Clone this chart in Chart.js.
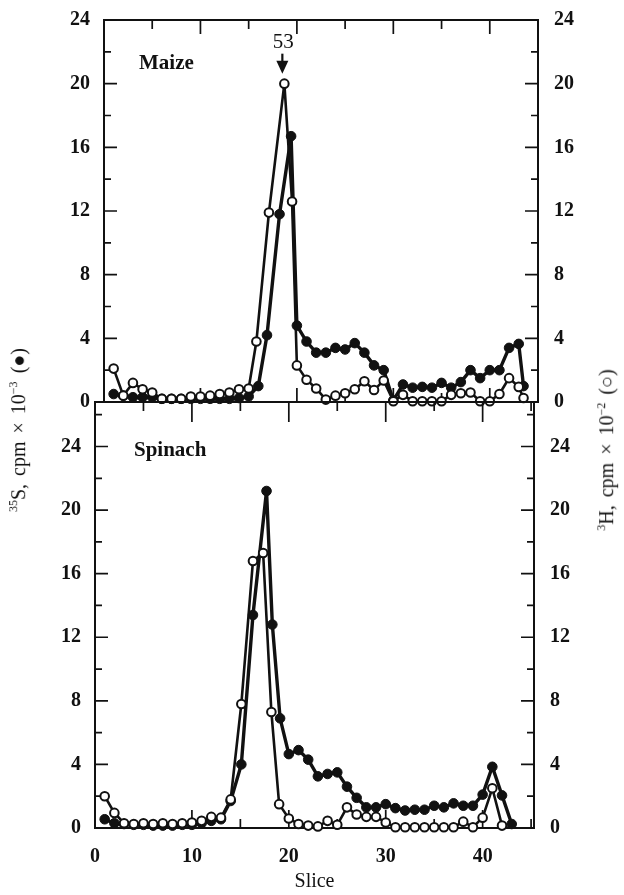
<!DOCTYPE html>
<html>
<head>
<meta charset="utf-8">
<script src="https://cdn.jsdelivr.net/npm/chart.js@4.4.0/dist/chart.umd.min.js"></script>
<style>
  body { margin: 0; background: #fff; width: 624px; height: 895px; overflow: hidden; position: relative;
         font-family: "Liberation Serif", "DejaVu Serif", serif; color: #111; }
  canvas { position: absolute; left: 0; }
  #maize { top: 0; }
  #spinach { top: 380px; }
  .panel-label { position: absolute; font-weight: bold; font-size: 21px; }
  .axis-title { position: absolute; white-space: nowrap; font-size: 20px; word-spacing: 3px;
                transform: translate(-50%, -50%) rotate(-90deg); }
  .axis-title sup { font-size: 12px; }
</style>
</head>
<body>
<canvas id="maize" width="624" height="430"></canvas>
<canvas id="spinach" width="624" height="515"></canvas>
<div class="panel-label" style="left:139px; top:50px;">Maize</div>
<div class="panel-label" style="left:134px; top:437px;">Spinach</div>
<div class="axis-title" style="left:18px; top:430px;"><sup>35</sup>S, cpm × 10<sup>−3</sup> (●)</div>
<div class="axis-title" style="left:606px; top:450px;"><sup>3</sup>H, cpm × 10<sup>−2</sup> (○)</div>
<script>
// Maize: slice positions of the plotted fractions
const maizeS35Slices = [1, 2, 3, 4, 5, 6, 7, 8, 9, 10, 11, 12, 13, 14, 15, 16, 16.9, 18.2, 19.4, 20,
    21, 22, 23, 24, 25, 26, 27, 28, 29, 30, 31, 32, 33, 34, 35, 36, 37, 38, 39, 40, 41, 42, 43, 43.5];
// 35S, cpm x 10^-3 (filled circles)
const maizeS35 = [0.5, 0.4, 0.3, 0.3, 0.3, 0.2, 0.2, 0.2, 0.2, 0.2, 0.2, 0.2, 0.2, 0.25, 0.35, 1.0,
    4.2, 11.8, 16.7, 4.8, 3.8, 3.1, 3.1, 3.4, 3.3, 3.7, 3.1, 2.3, 2.0, 0.1, 1.1, 0.9, 0.95, 0.9, 1.2,
    0.9, 1.25, 2.0, 1.5, 2.0, 2.0, 3.4, 3.65, 1.0];
const maizeH3Slices = [1, 2, 3, 4, 5, 6, 7, 8, 9, 10, 11, 12, 13, 14, 15, 15.8, 17.1, 18.7, 19.5, 20,
    21, 22, 23, 24, 25, 26, 27, 28, 29, 30, 31, 32, 33, 34, 35, 36, 37, 38, 39, 40, 41, 42, 43, 43.5];
// 3H, cpm x 10^-2 (open circles)
const maizeH3 = [2.1, 0.4, 1.2, 0.8, 0.6, 0.2, 0.2, 0.2, 0.35, 0.35, 0.4, 0.5, 0.6, 0.8, 0.85, 3.8,
    11.9, 20.0, 12.6, 2.3, 1.4, 0.85, 0.15, 0.4, 0.55, 0.8, 1.3, 0.75, 1.35, 0.05, 0.45, 0.05, 0.05,
    0.05, 0.05, 0.45, 0.55, 0.6, 0.05, 0.05, 0.5, 1.5, 0.95, 0.25];

// Spinach
const spinachS35Slices = [1, 2, 3, 4, 5, 6, 7, 8, 9, 10, 11, 12, 13, 14, 15.1, 16.3, 17.7, 18.3, 19.1,
    20, 21, 22, 23, 24, 25, 26, 27, 28, 29, 30, 31, 32, 33, 34, 35, 36, 37, 38, 39, 40, 41, 42, 43];
const spinachS35 = [0.55, 0.3, 0.25, 0.2, 0.2, 0.15, 0.15, 0.15, 0.2, 0.2, 0.3, 0.45, 0.55, 1.7, 4.0,
    13.4, 21.2, 12.8, 6.9, 4.65, 4.9, 4.3, 3.25, 3.4, 3.5, 2.6, 1.9, 1.3, 1.3, 1.5, 1.25, 1.1, 1.15,
    1.15, 1.4, 1.3, 1.55, 1.4, 1.4, 2.1, 3.85, 2.05, 0.25];
const spinachH3Slices = [1, 2, 3, 4, 5, 6, 7, 8, 9, 10, 11, 12, 13, 14, 15.1, 16.3, 17.35, 18.2, 19,
    20, 21, 22, 23, 24, 25, 26, 27, 28, 29, 30, 31, 32, 33, 34, 35, 36, 37, 38, 39, 40, 41, 42];
const spinachH3 = [2.0, 0.95, 0.3, 0.25, 0.3, 0.25, 0.3, 0.25, 0.3, 0.35, 0.45, 0.7, 0.65, 1.8, 7.8,
    16.8, 17.3, 7.3, 1.5, 0.6, 0.25, 0.15, 0.1, 0.45, 0.2, 1.3, 0.85, 0.7, 0.7, 0.35, 0.05, 0.05, 0.05,
    0.05, 0.05, 0.05, 0.05, 0.4, 0.05, 0.65, 2.5, 0.15];

const xTickLabels = [0, 10, 20, 30, 40];
const yTickLabels = [0, 4, 8, 12, 16, 20, 24];
const peakLabel = '53';

const INK = '#111';
Chart.defaults.font.family = '"Liberation Serif", "DejaVu Serif", serif';
Chart.defaults.font.size = 20;
Chart.defaults.font.weight = 'bold';
Chart.defaults.color = INK;

function toPoints(xs, ys) {
    return ys.map((y, i) => ({ x: xs[i], y }));
}

// frame and inward tick marks, like the printed figure
const frameTicks = {
    id: 'frameTicks',
    beforeDatasetsDraw(chart, args, opts) {
        const { ctx, chartArea: a, scales } = chart;
        ctx.save();
        ctx.strokeStyle = INK;
        ctx.lineWidth = 2;
        ctx.strokeRect(a.left, a.top, a.right - a.left, a.bottom - a.top);
        ctx.lineWidth = 1.7;
        ctx.beginPath();
        for (let v = 5; v < scales.x.max; v += 5) {
            const x = scales.x.getPixelForValue(v);
            const major = v % 10 === 0;
            ctx.moveTo(x, a.bottom);
            ctx.lineTo(x, a.bottom - (major ? opts.bottomMajor : opts.bottomMinor));
            ctx.moveTo(x, a.top);
            ctx.lineTo(x, a.top + (major ? opts.topMajor : opts.topMinor));
        }
        for (let v = 2; v <= scales.y.max; v += 2) {
            const len = v % 4 === 0 ? 13 : 7;
            const yl = scales.y.getPixelForValue(v);
            const yr = scales.y2.getPixelForValue(v);
            ctx.moveTo(a.left, yl);
            ctx.lineTo(a.left + len, yl);
            ctx.moveTo(a.right, yr);
            ctx.lineTo(a.right - len, yr);
        }
        ctx.stroke();
        ctx.restore();
    },
    afterDatasetsDraw(chart, args, opts) {
        if (!opts.arrow) return;
        const { ctx, scales } = chart;
        const pts = chart.data.datasets[0].data;
        let peak = pts[0];
        pts.forEach(p => { if (p.y > peak.y) peak = p; });
        const x = scales.x.getPixelForValue(peak.x) - 2;
        const y = scales.y2.getPixelForValue(peak.y);
        ctx.save();
        ctx.strokeStyle = INK;
        ctx.fillStyle = INK;
        ctx.lineWidth = 2.2;
        ctx.beginPath();
        ctx.moveTo(x, y - 30);
        ctx.lineTo(x, y - 21);
        ctx.stroke();
        ctx.beginPath();
        ctx.moveTo(x - 6, y - 23);
        ctx.lineTo(x + 6, y - 23);
        ctx.lineTo(x, y - 10);
        ctx.closePath();
        ctx.fill();
        ctx.font = '21px "Liberation Serif", serif';
        ctx.textAlign = 'center';
        ctx.textBaseline = 'middle';
        ctx.fillText(peakLabel, x + 1, y - 41);
        ctx.restore();
    }
};

function makePanel(canvasId, data, cfg) {
    const openSet = {
        data: toPoints(data.h3Slices, data.h3),
        yAxisID: 'y2',
        borderColor: INK,
        borderWidth: 2.6,
        pointRadius: 4.3,
        pointBorderWidth: 2,
        pointBackgroundColor: '#fff',
        pointBorderColor: INK,
        tension: 0,
        clip: false
    };
    const filledSet = {
        data: toPoints(data.s35Slices, data.s35),
        yAxisID: 'y',
        borderColor: INK,
        borderWidth: 3.4,
        pointRadius: 4.8,
        pointBorderWidth: 1,
        pointBackgroundColor: INK,
        pointBorderColor: INK,
        tension: 0,
        clip: false
    };
    const yAxis = (position, width) => ({
        type: 'linear',
        position,
        min: 0,
        max: cfg.yMax,
        grid: { display: false },
        border: { display: false },
        ticks: { padding: position === 'left' ? 6 : 8 },
        afterBuildTicks: s => { s.ticks = yTickLabels.map(v => ({ value: v })); },
        afterFit: s => { s.width = width; }
    });
    return new Chart(document.getElementById(canvasId), {
        type: 'line',
        data: { datasets: [openSet, filledSet] },
        options: {
            responsive: false,
            animation: false,
            events: [],
            layout: { padding: { top: cfg.top, left: 0, right: 0, bottom: 0 } },
            plugins: {
                legend: { display: false },
                tooltip: { enabled: false },
                frameTicks: cfg.ticks
            },
            scales: {
                x: {
                    type: 'linear',
                    min: 0,
                    max: cfg.xMax,
                    grid: { display: false },
                    border: { display: false },
                    ticks: { display: cfg.xLabels, padding: 9 },
                    title: {
                        display: cfg.xLabels,
                        text: 'Slice',
                        font: { size: 20, weight: 'normal' },
                        padding: { top: 0, bottom: 1 }
                    },
                    afterBuildTicks: s => { s.ticks = xTickLabels.map(v => ({ value: v })); },
                    afterFit: s => { s.height = cfg.xHeight; }
                },
                y: yAxis('left', cfg.left),
                y2: yAxis('right', cfg.right)
            }
        },
        plugins: [frameTicks]
    });
}

makePanel('maize', { s35Slices: maizeS35Slices, s35: maizeS35, h3Slices: maizeH3Slices, h3: maizeH3 }, {
    yMax: 24, xMax: 45, top: 18, left: 104, right: 86, xHeight: 28, xLabels: false,
    ticks: { topMajor: 14, topMinor: 9, bottomMajor: 14, bottomMinor: 9, arrow: true }
});
makePanel('spinach', { s35Slices: spinachS35Slices, s35: spinachS35, h3Slices: spinachH3Slices, h3: spinachH3 }, {
    yMax: 26.8, xMax: 45.3, top: 22, left: 95, right: 90, xHeight: 67, xLabels: true,
    ticks: { topMajor: 20, topMinor: 9, bottomMajor: 18, bottomMinor: 9, arrow: false }
});
</script>
</body>
</html>
